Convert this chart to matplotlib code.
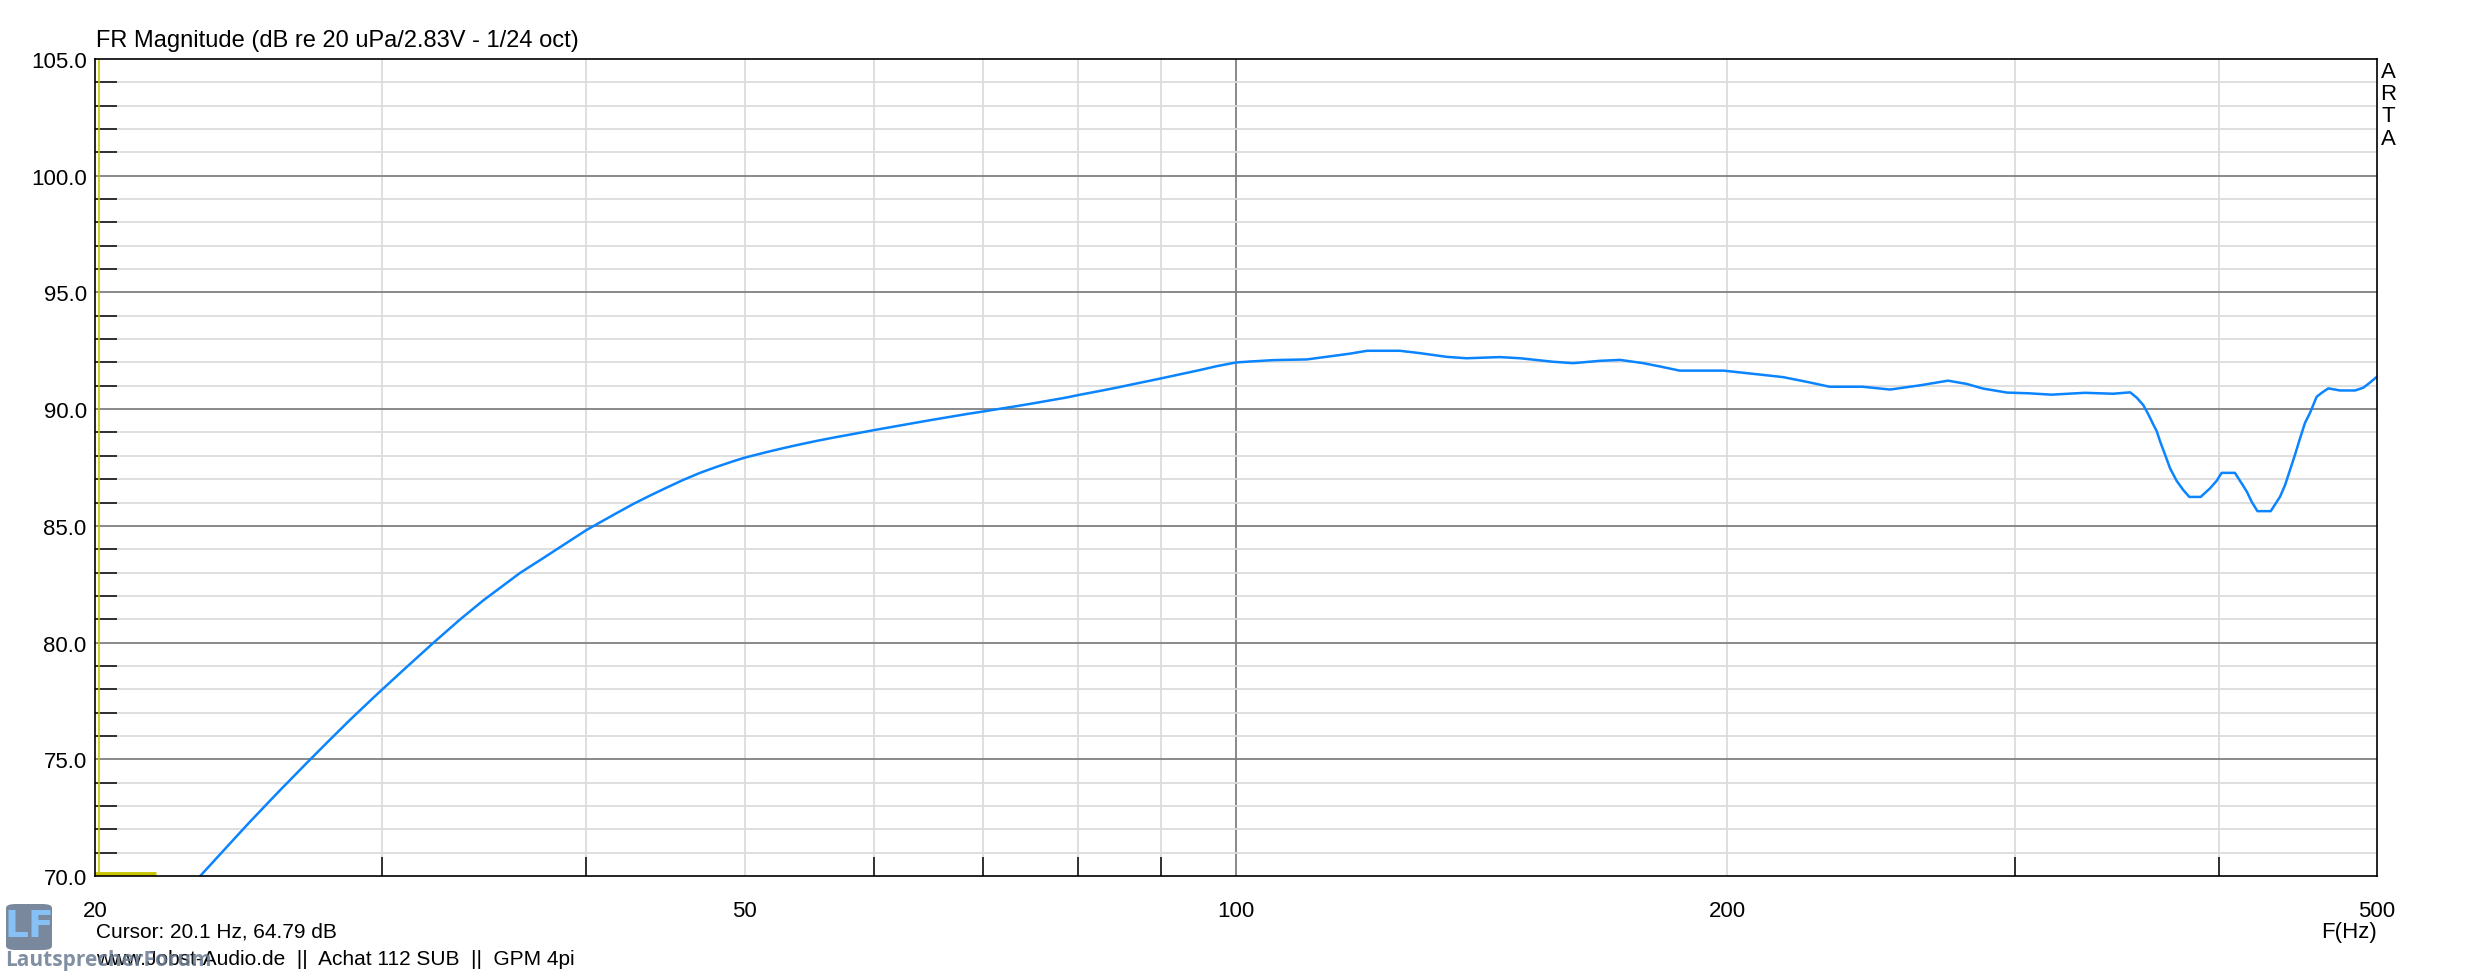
import numpy as np
import matplotlib.pyplot as plt
from matplotlib.patches import FancyBboxPatch
from matplotlib.ticker import FixedLocator, NullFormatter

plt.rcParams['font.family'] = ['Liberation Sans', 'DejaVu Sans']

# ---------------------------------------------------------
# Measured response (read off the ARTA plot)
# ---------------------------------------------------------
FREQ_HZ = [20.1, 23.2, 23.91, 24.83, 25.54, 25.97, 26.96, 27.73, 28.66, 29.62,
           30.0, 31.04, 32.2, 33.47, 34.59, 36.42, 37.6, 40.0, 40.78, 41.75,
           42.74, 43.76, 44.8, 45.86, 46.95, 48.07, 49.22, 50.0, 51.58, 52.81,
           54.07, 55.35, 56.67, 58.02, 60.0, 62.26, 65.25, 68.4, 70.0, 73.4,
           75.14, 78.76, 80.0, 82.54, 84.5, 86.5, 88.6, 90.0, 92.8, 95.1,
           97.3, 100.0, 102.0, 105.4, 110.5, 114.7, 117.5, 120.3, 126.0, 129.6,
           134.6, 138.4, 145.1, 149.3, 156.4, 160.9, 167.1, 171.9, 177.6, 181.8,
           187.0, 198.9, 211.4, 216.4, 223.7, 231.0, 242.0, 251.6, 262.4, 273.0,
           280.3, 286.9, 296.7, 305.7, 315.9, 331.2, 344.5, 353.0, 356.3, 359.6,
           362.2, 364.7, 366.5, 368.2, 370.8, 373.4, 376.9, 380.4, 383.7, 389.9,
           395.1, 398.8, 401.6, 409.2, 413.1, 416.1, 419.0, 422.4, 430.4, 436.1,
           439.2, 442.3, 445.4, 448.6, 451.7, 454.9, 459.2, 462.5, 466.8, 474.6,
           484.8, 490.5, 495.1, 500.0]
SPL_DB = [64.79, 70.0, 71.0, 72.25, 73.15, 73.68, 74.84, 75.7, 76.69, 77.64,
          78.0, 78.95, 79.96, 80.99, 81.81, 82.98, 83.6, 84.82, 85.15, 85.55,
          85.94, 86.3, 86.64, 86.97, 87.27, 87.53, 87.77, 87.92, 88.16, 88.33,
          88.49, 88.64, 88.78, 88.91, 89.1, 89.3, 89.55, 89.79, 89.9, 90.13,
          90.25, 90.5, 90.6, 90.78, 90.92, 91.07, 91.22, 91.32, 91.52, 91.68,
          91.84, 92.0, 92.04, 92.1, 92.13, 92.28, 92.38, 92.5, 92.5, 92.4,
          92.24, 92.18, 92.23, 92.18, 92.03, 91.97, 92.07, 92.11, 91.97, 91.83,
          91.65, 91.65, 91.45, 91.37, 91.17, 90.96, 90.96, 90.84, 91.02, 91.22,
          91.08, 90.88, 90.71, 90.68, 90.62, 90.7, 90.66, 90.72, 90.49, 90.17,
          89.77, 89.34, 89.05, 88.62, 88.05, 87.47, 86.93, 86.54, 86.24, 86.24,
          86.61, 86.93, 87.27, 87.27, 86.82, 86.47, 86.03, 85.63, 85.63, 86.25,
          86.75, 87.4, 88.05, 88.76, 89.41, 89.84, 90.53, 90.7, 90.89, 90.8,
          90.8, 90.92, 91.14, 91.39]

CURSOR_HZ = 20.1
CURSOR_DB = 64.79

X_LABELED = [20, 50, 100, 200, 500]
X_MINOR = [30, 40, 60, 70, 80, 90, 300, 400]
Y_MIN, Y_MAX = 70, 105
Y_MAJOR = list(range(70, 106, 5))
Y_MINOR = [v for v in range(70, 106) if v % 5]

TITLE = 'FR Magnitude (dB re 20 uPa/2.83V - 1/24 oct)'
CURSOR_TEXT = 'Cursor: 20.1 Hz, 64.79 dB'
INFO_TEXT = 'www.Jobst-Audio.de  ||  Achat 112 SUB  ||  GPM 4pi'

W, H = 2473, 978
LIGHT = '#dcdcdc'
DARK = '#808080'
CURVE = '#0a84ff'
CURSOR_COL = '#c8c400'

fig = plt.figure(figsize=(W / 100, H / 100), dpi=100)
ax = fig.add_axes([95 / W, (H - 877) / H, (2377 - 95) / W, (877 - 60) / H])
ax.set_xscale('log')
ax.set_xlim(20, 500)
ax.set_ylim(Y_MIN, Y_MAX)

# grid: light lines, darker at every 5 dB and at the decade
for f in X_LABELED[1:-1] + X_MINOR:
    ax.axvline(f, color=DARK if f == 100 else LIGHT, lw=1.3, zorder=1)
for v in Y_MINOR + Y_MAJOR[1:-1]:
    ax.axhline(v, color=DARK if v % 5 == 0 else LIGHT, lw=1.3, zorder=1)

ax.plot(FREQ_HZ, SPL_DB, color=CURVE, lw=1.8, zorder=3)

# cursor marker (its level is below the range, so it sits on the bottom edge)
ax.axvline(CURSOR_HZ, color=CURSOR_COL, lw=1.2, zorder=4)
ax.plot([20, CURSOR_HZ * 1.085], [max(CURSOR_DB, Y_MIN) + 0.1] * 2,
        color=CURSOR_COL, lw=3.5, solid_capstyle='butt', zorder=4)

ax.set_xticks(X_LABELED, labels=[str(f) for f in X_LABELED])
ax.xaxis.set_minor_locator(FixedLocator(X_MINOR))
ax.xaxis.set_minor_formatter(NullFormatter())
ax.set_yticks(Y_MAJOR, labels=['%.1f' % v for v in Y_MAJOR])
ax.yaxis.set_minor_locator(FixedLocator(Y_MINOR))

ax.tick_params(which='major', length=0, labelsize=16)
ax.tick_params(axis='x', which='major', pad=17)
ax.tick_params(axis='y', which='major', pad=6)
ax.tick_params(axis='x', which='minor', direction='in', length=13.7, width=1.1, color='black')
ax.tick_params(axis='y', which='minor', direction='in', length=15.8, width=1.1, color='black')

for sp in ax.spines.values():
    sp.set_linewidth(1.2)
    sp.set_color('black')
    sp.set_zorder(5)

fig.text(96 / W, 1 - 41 / H, TITLE, fontsize=17, ha='left', va='center')
fig.text(2377 / W, 1 - 933 / H, 'F(Hz)', fontsize=16, ha='right', va='center')
for i, ch in enumerate('ARTA'):
    fig.text(2388 / W, 1 - (72 + 22.5 * i) / H, ch, fontsize=16, ha='center', va='center')

fig.text(96 / W, 1 - 932 / H, CURSOR_TEXT, fontsize=15, ha='left', va='center')
fig.text(96 / W, 1 - 960 / H, INFO_TEXT, fontsize=15, ha='left', va='center')

# forum watermark
logo = FancyBboxPatch((6 / W, (H - 951) / H), 46 / W, 46 / H,
                      boxstyle='round,pad=0.0,rounding_size=0.004',
                      transform=fig.transFigure, facecolor='#6b7b93',
                      edgecolor='none', alpha=0.9, zorder=6)
fig.patches.append(logo)
fig.text(29 / W, 1 - 927 / H, 'LF', fontsize=27, fontweight='bold', color='#86c0f4',
         ha='center', va='center', family='DejaVu Sans', zorder=7)
fig.text(5 / W, 1 - 961 / H, 'LautsprecherForum', fontsize=15, fontweight='bold',
         color='#6b7b93', alpha=0.85, ha='left', va='center', family='Open Sans', zorder=7)

fig.savefig('out.png', dpi=100)
